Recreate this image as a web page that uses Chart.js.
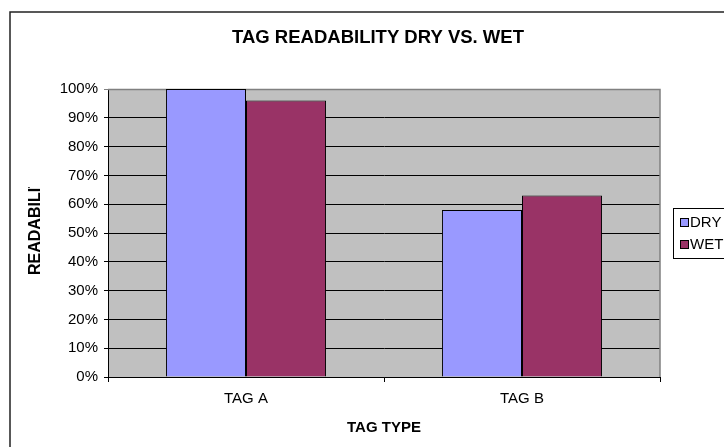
<!DOCTYPE html>
<html>
<head>
<meta charset="utf-8">
<script src="https://cdn.jsdelivr.net/npm/chart.js@4/dist/chart.umd.min.js"></script>
<style>
  html, body { margin: 0; padding: 0; background: #fff; overflow: hidden; }
  #wrap { width: 756px; height: 460px; }
</style>
</head>
<body>
<div id="wrap"><canvas id="readChart" width="756" height="460"></canvas></div>
<script>
// chart data
const categories = ['TAG A', 'TAG B'];
const dryValues = [100, 58];
const wetValues = [96, 63];
const seriesNames = ['DRY', 'WET'];
const yTicks = [0, 10, 20, 30, 40, 50, 60, 70, 80, 90, 100];
const chartTitle = 'TAG READABILITY DRY VS. WET';
const yTitle = 'READABILITY';
const xTitle = 'TAG TYPE';

Chart.defaults.font.family = '"Liberation Sans", Arial, sans-serif';
Chart.defaults.color = '#000';

// gray plot area + outer frame, title, y title and boxed legend
const excelLook = {
    id: 'excelLook',
    beforeDraw(chart) {
        const { ctx, chartArea: a } = chart;
        ctx.save();
        ctx.fillStyle = '#fff';
        ctx.fillRect(0, 0, chart.width, chart.height);
        ctx.fillStyle = '#C0C0C0';
        ctx.fillRect(a.left, a.top, a.right - a.left, a.bottom - a.top);
        ctx.restore();
    },
    beforeDatasetsDraw(chart) {
        const { ctx, chartArea: a } = chart;
        ctx.save();
        ctx.strokeStyle = '#808080';
        ctx.lineWidth = 1.5;
        ctx.beginPath();
        ctx.moveTo(a.left, a.top + 0.5);
        ctx.lineTo(a.right, a.top + 0.5);
        ctx.lineTo(a.right, a.bottom);
        ctx.stroke();
        ctx.restore();
    },
    afterDraw(chart) {
        const { ctx } = chart;
        ctx.save();
        // outer border
        ctx.strokeStyle = '#222';
        ctx.lineWidth = 1.5;
        ctx.strokeRect(10, 12, 735, 443);

        // title
        ctx.fillStyle = '#000';
        ctx.font = 'bold 18.5px "Liberation Sans", Arial, sans-serif';
        ctx.textAlign = 'center';
        ctx.textBaseline = 'middle';
        ctx.fillText(chartTitle, 378, 38);

        // y axis title, cut off at the top like the original
        ctx.save();
        ctx.beginPath();
        ctx.rect(20, 187, 40, 120);
        ctx.clip();
        ctx.translate(36, 275);
        ctx.rotate(-Math.PI / 2);
        ctx.font = 'bold 16px "Liberation Sans", Arial, sans-serif';
        ctx.textAlign = 'left';
        ctx.fillText(yTitle, 0, 0);
        ctx.restore();

        // legend
        ctx.strokeStyle = '#000';
        ctx.lineWidth = 1;
        ctx.strokeRect(673.5, 208.5, 80, 50);
        ctx.font = '15px "Liberation Sans", Arial, sans-serif';
        ctx.textAlign = 'left';
        chart.data.datasets.forEach((ds, i) => {
            const y = 222 + i * 22;
            ctx.fillStyle = ds.backgroundColor;
            ctx.fillRect(680, y - 4, 8, 8);
            ctx.strokeRect(680.5, y - 3.5, 8, 8);
            ctx.fillStyle = '#000';
            ctx.fillText(ds.label, 690, y + 1);
        });
        ctx.restore();
    }
};

const ctx = document.getElementById('readChart').getContext('2d');
const readChart = new Chart(ctx, {
    type: 'bar',
    data: {
        labels: categories,
        datasets: [{
            label: seriesNames[0],
            data: dryValues,
            backgroundColor: '#9999FF',
            borderColor: '#000',
            borderWidth: 1,
            categoryPercentage: 0.58,
            barPercentage: 1.0
        }, {
            label: seriesNames[1],
            data: wetValues,
            backgroundColor: '#993366',
            borderColor: '#000',
            borderWidth: 1,
            categoryPercentage: 0.58,
            barPercentage: 1.0
        }]
    },
    options: {
        responsive: false,
        animation: false,
        layout: { padding: { left: 0, top: 89, right: 96, bottom: 0 } },
        plugins: {
            legend: { display: false },
            tooltip: { enabled: false },
            title: { display: false }
        },
        scales: {
            x: {
                afterFit(scale) { scale.height = 83; },
                grid: {
                    display: true,
                    drawOnChartArea: false,
                    drawTicks: true,
                    tickLength: 5,
                    offset: true,
                    color: '#000'
                },
                border: { color: '#000', width: 1 },
                ticks: { padding: 8, font: { size: 15 }, color: '#000' },
                title: {
                    display: true,
                    text: xTitle,
                    font: { size: 15, weight: 'bold' },
                    padding: { top: 0, bottom: 23 }
                }
            },
            y: {
                min: 0,
                max: 100,
                afterFit(scale) { scale.width = 108; },
                afterBuildTicks(scale) {
                    scale.ticks = yTicks.map(v => ({ value: v }));
                },
                grid: {
                    color: ctx => (ctx.tick && ctx.tick.value === 100 ? '#808080' : '#000'),
                    lineWidth: 1,
                    tickLength: 4
                },
                border: { color: '#000', width: 1 },
                ticks: {
                    padding: 6,
                    font: { size: 15 },
                    color: '#000',
                    callback: v => v + '%'
                }
            }
        }
    },
    plugins: [excelLook]
});
</script>
</body>
</html>
